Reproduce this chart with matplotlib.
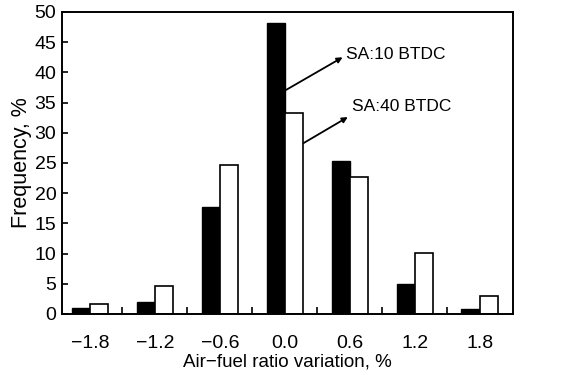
import matplotlib.pyplot as plt
import numpy as np

plt.rcParams['font.family'] = ['Liberation Sans', 'DejaVu Sans']

categories = ['\u22121.8', '\u22121.2', '\u22120.6', '0.0', '0.6', '1.2', '1.8']
sa10 = [1.0, 2.0, 17.7, 48.1, 25.4, 5.0, 0.8]
sa40 = [1.6, 4.6, 24.6, 33.2, 22.6, 10.1, 3.0]

x = np.arange(len(categories))
w = 0.28

fig = plt.figure(figsize=(5.66, 3.75), dpi=100)
ax = fig.add_axes([0.1095, 0.1627, 0.7965, 0.8053])

ax.bar(x - w / 2, sa10, width=w, color='black', edgecolor='black', linewidth=1.0)
ax.bar(x + w / 2, sa40, width=w, color='white', edgecolor='black', linewidth=1.2)

ax.set_xlim(-0.43, 6.51)
ax.set_ylim(0, 50)
ax.set_yticks(np.arange(0, 51, 5))
ax.set_xticks(x)
ax.set_xticklabels(categories)
ax.set_xticks(x[:-1] + 0.5, minor=True)

ax.tick_params(axis='x', which='major', length=0, pad=15, labelsize=14)
ax.tick_params(axis='x', which='minor', direction='in', length=5, width=1.2)
ax.tick_params(axis='y', direction='in', length=4, width=1.2, pad=4, labelsize=14)

for s in ax.spines.values():
    s.set_linewidth(1.4)

ax.set_ylabel('Frequency, %', fontsize=15.5, labelpad=2)
ax.set_xlabel('Air\u2212fuel ratio variation, %', fontsize=13.5, labelpad=1)

arrow = dict(arrowstyle='-|>', color='black', lw=1.3, mutation_scale=8, shrinkA=0, shrinkB=0)
ax.annotate('', xy=(3.89, 42.5), xytext=(3.02, 37.1), arrowprops=arrow)
ax.text(3.95, 42.9, 'SA:10 BTDC', fontsize=12.5, va='center', ha='left')
ax.annotate('', xy=(3.97, 32.6), xytext=(3.29, 28.3), arrowprops=arrow)
ax.text(4.03, 34.3, 'SA:40 BTDC', fontsize=12.5, va='center', ha='left')

fig.savefig('out.png', dpi=100)
